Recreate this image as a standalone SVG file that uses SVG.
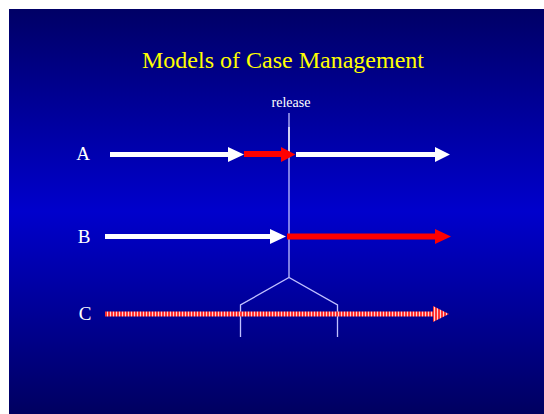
<svg xmlns="http://www.w3.org/2000/svg" width="544" height="414" viewBox="0 0 544 414">
<defs>
<linearGradient id="bg" x1="0" y1="0" x2="0" y2="1">
<stop offset="0" stop-color="#000066"/>
<stop offset="0.5" stop-color="#0000cc"/>
<stop offset="1" stop-color="#000060"/>
</linearGradient>
<pattern id="stripes" x="0" y="0" width="3" height="20" patternUnits="userSpaceOnUse">
<rect x="0" y="0" width="2" height="20" fill="#ff3333"/>
<rect x="2" y="0" width="1" height="20" fill="#ffd0d0"/>
</pattern>
<style>
.lbl{font-family:"Liberation Serif",serif;fill:#ffffff;font-size:19px;text-anchor:middle}
.wh{fill:#ffffff}
.rd{fill:#ff0000}
.st{fill:url(#stripes)}
.ln{stroke:#c0c0ff;stroke-width:1.3;fill:none}
</style>
</defs>
<rect x="9" y="9" width="535" height="405" fill="url(#bg)"/>
<text x="283" y="68" font-family="Liberation Serif, serif" font-size="24" fill="#ffff00" text-anchor="middle">Models of Case Management</text>
<text x="291" y="107" font-family="Liberation Serif, serif" font-size="14" fill="#ffffff" text-anchor="middle">release</text>
<g id="connectors">
<line class="ln" x1="289" y1="113" x2="289" y2="277"/>
<line x1="289" y1="127" x2="289" y2="152" stroke="#ffffff" stroke-width="1.3"/>
<polyline class="ln" points="240.5,337 240.5,305 289,277.5 337.5,305 337.5,337" stroke="#e0e0ff"/>
</g>
<g id="rowA">
<text class="lbl" x="83" y="160">A</text>
<polygon class="wh" points="110,152 228,152 228,147 244,154.5 228,162 228,157 110,157"/>
<polygon class="rd" points="244,151 281,151 281,147 295.5,154.5 281,162 281,157 244,157"/>
<polygon class="wh" points="296,152 435,152 435,147 450,154.5 435,162 435,157 296,157"/>
</g>
<g id="rowB">
<text class="lbl" x="84" y="243">B</text>
<polygon class="wh" points="105,234 270,234 270,229 286,236.5 270,244 270,239 105,239"/>
<polygon class="rd" points="287,233.5 435,233.5 435,229 451,236.5 435,244 435,239.5 287,239.5"/>
</g>
<g id="rowC">
<text class="lbl" x="85" y="320">C</text>
<polygon class="st" points="105,311.5 433,311.5 433,306 449,314 433,322 433,316.5 105,316.5"/>
</g>
</svg>
